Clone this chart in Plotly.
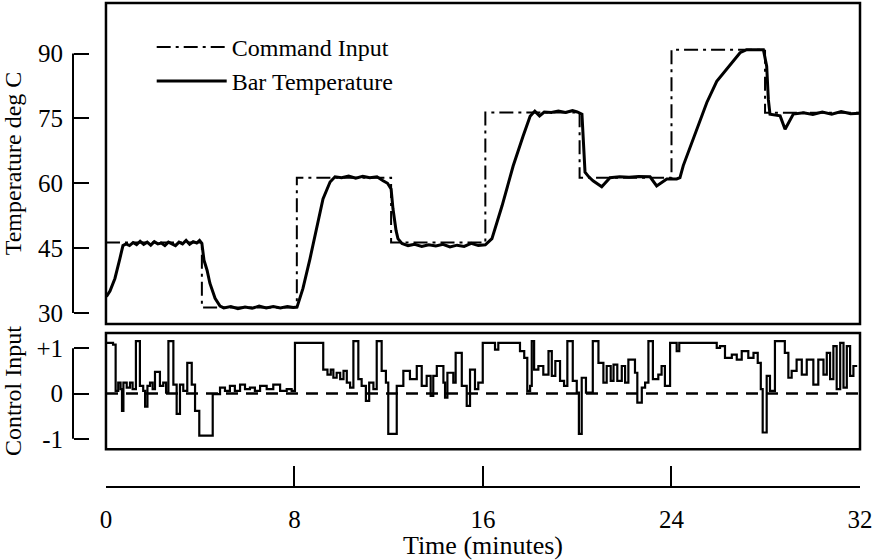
import plotly.graph_objects as go

# ---------------- data ----------------
CMD_T = [0, 4.07, 8.1, 12.1, 16.1, 20.1, 24.0, 27.97, 32]
CMD_V = [46.3, 31.3, 61.3, 46.3, 76.4, 61.3, 90.9, 76.3, 76.3]

BAR_T = [0, 0.04, 0.17, 0.38, 0.59, 0.72, 0.85, 1.0, 1.15, 1.3, 1.45, 1.6, 1.75, 1.9,
         2.05, 2.2, 2.35, 2.5, 2.65, 2.8, 2.95, 3.1, 3.25, 3.4, 3.55, 3.7, 3.85, 3.97,
         4.07, 4.16, 4.29, 4.41, 4.63, 4.84, 5.0, 5.3, 5.6, 5.9, 6.2, 6.5, 6.8, 7.1, 7.4,
         7.7, 7.95, 8.11, 8.36, 8.66, 8.96, 9.21, 9.51, 9.72, 10.0, 10.3, 10.6, 10.9,
         11.2, 11.5, 11.76, 11.95, 12.1, 12.18, 12.31, 12.39, 12.56, 12.82, 13.1, 13.4,
         13.7, 14.0, 14.3, 14.6, 14.9, 15.2, 15.5, 15.8, 16.1, 16.21, 16.38, 16.81,
         17.28, 17.7, 18.0, 18.2, 18.4, 18.6, 18.9, 19.2, 19.5, 19.8, 20.0, 20.2, 20.27,
         20.33, 20.49, 20.67, 21.04, 21.39, 21.8, 22.2, 22.6, 23.09, 23.37, 23.8, 24.22,
         24.36, 24.5, 24.93, 25.5, 25.92, 26.34, 26.91, 27.19, 27.9, 28.04, 28.11,
         28.18, 28.61, 28.82, 29.17, 29.6, 30.0, 30.4, 30.8, 31.2, 31.6, 32.0]
BAR_V = [33.9, 34.0, 35.1, 38.0, 42.6, 45.6, 46.0, 45.6, 46.3, 45.8, 46.6, 45.9, 46.4, 45.7,
         46.5, 46.0, 46.2, 45.6, 46.4, 46.0, 45.6, 46.4, 46.0, 46.8, 45.9, 46.5, 46.2, 46.8,
         46.1, 42.2, 39.9, 36.9, 33.4, 31.6, 31.2, 31.5, 31.0, 31.4, 31.1, 31.6, 31.2, 31.5,
         31.2, 31.5, 31.3, 31.4, 35.7, 42.6, 50.2, 56.4, 60.3, 61.5, 61.3, 61.7, 61.2, 61.6,
         61.3, 61.5, 60.6, 60.0, 58.7, 54.1, 49.1, 47.2, 46.1, 45.6, 45.9, 45.4, 45.8, 45.5,
         45.9, 45.3, 45.7, 45.4, 46.1, 45.6, 45.8, 46.3, 47.2, 54.8, 64.0, 70.9, 75.5, 76.7,
         75.6, 76.5, 76.4, 76.7, 76.4, 76.8, 76.5, 76.0, 67.9, 62.6, 61.5, 60.6, 59.2, 61.3,
         61.5, 61.4, 61.6, 61.5, 59.4, 61.0, 61.0, 61.3, 64.1, 70.2, 78.7, 83.6, 86.3, 90.2,
         90.9, 90.9, 87.1, 79.4, 76.0, 75.6, 72.5, 76.0, 76.3, 75.9, 76.5, 76.0, 76.6, 76.1,
         76.2]

CTRL_T = [0, 0.30, 0.41, 0.52, 0.62, 0.68, 0.74, 0.88, 1.02, 1.13, 1.27, 1.44, 1.58, 1.66,
          1.76, 1.87, 1.98, 2.08, 2.29, 2.43, 2.55, 2.65, 2.86, 3.0, 3.14, 3.28, 3.45, 3.64,
          3.78, 3.96, 4.53, 4.84, 5.05, 5.26, 5.47, 5.69, 5.90, 6.11, 6.32, 6.54, 6.82, 7.10,
          7.39, 7.67, 7.88, 8.02, 9.22, 9.40, 9.54, 9.65, 9.79, 9.94, 10.08, 10.22, 10.36,
          10.5, 10.71, 10.85, 11.03, 11.17, 11.35, 11.49, 11.70, 11.88, 11.98, 12.34, 12.62,
          12.90, 13.19, 13.40, 13.61, 13.78, 13.89, 14.04, 14.32, 14.39, 14.49, 14.74, 14.84,
          15.10, 15.31, 15.45, 15.66, 15.80, 15.99, 16.51, 16.65, 17.57, 17.75, 17.88, 18.0,
          18.07, 18.17, 18.35, 18.56, 18.78, 18.92, 19.07, 19.27, 19.44, 19.58, 19.81, 19.98,
          20.07, 20.19, 20.37, 20.66, 20.90, 21.11, 21.25, 21.42, 21.54, 21.70, 21.89, 22.03,
          22.17, 22.45, 22.55, 22.74, 22.88, 23.02, 23.21, 23.44, 23.58, 23.72, 23.94, 24.22,
          24.33, 25.92, 26.06, 26.27, 26.56, 26.77, 26.98, 27.26, 27.48, 27.66, 27.79, 27.87,
          28.04, 28.18, 28.39, 28.81, 28.96, 29.10, 29.31, 29.53, 29.74, 30.02, 30.23, 30.45,
          30.59, 30.73, 30.87, 31.01, 31.16, 31.30, 31.44, 31.58, 31.72, 31.88]
CTRL_V = [1.12, 1.08, 0.06, 0.24, 0.10, -0.38, 0.24, 0.13, 0.24, 0.10, 1.16, 0.17, 0.06, -0.29,
          0.17, 0.24, 0.10, 0.48, 0.17, 0.24, 0.02, 1.16, 0.20, -0.45, 0.20, 0.06, 0.68, 0.20,
          -0.38, -0.93, -0.01, 0.13, 0.06, 0.17, 0.06, 0.20, 0.10, 0.13, 0.06, 0.17, 0.10, 0.20,
          0.06, 0.10, 0.06, 1.12, 0.53, 0.42, 0.53, 0.35, 0.46, 0.32, 0.50, 0.24, 0.13,
          1.16, 0.32, 0.17, -0.16, 0.24, 0.10, 1.16, 0.50, 0.24, -0.89, 0.17, 0.50,
          0.32, 0.61, 0.17, 0.39, -0.05, 0.39, 0.61, 0.24, -0.09, 0.46, 0.24, 0.90,
          0.17, -0.27, 0.53, 0.10, 0.24, 1.12, 0.97, 1.12, 0.94, 0.79, 0.06, 0.17,
          1.16, 0.53, 0.61, 0.42, 0.94, 0.39, 0.72, 0.28, 0.17, 1.16, 0.28, 0.02,
          -0.89, 0.35, 0.02, 1.16, 0.68, 0.24, 0.61, 0.28, 0.64, 0.28, 0.61, 0.24,
          0.75, 0.46, -0.20, 0.13, 0.24, 1.16, 0.32, 0.42, 0.61, 0.17, 1.12, 0.94,
          1.12, 1.01, 1.05, 0.79, 0.86, 0.75, 0.94, 0.79, 0.90, 0.68, 0.10, -0.86,
          0.39, 0.06, 1.16, 0.90, 0.35, 0.50, 0.75, 0.42, 0.75, 0.20, 0.75, 0.42,
          0.90, 0.32, 1.05, 0.10, 1.12, 0.13, 1.05, 0.39, 0.61, 0.61]

X_TICKS = [0, 8, 16, 24, 32]
Y1_TICKS = [30, 45, 60, 75, 90]
Y2_TICKS = [-1, 0, 1]
Y2_LABELS = ["-1", "0", "+1"]

FONT = "Liberation Serif"
INK = "#000000"

fig = go.Figure()
fig.add_trace(go.Scatter(x=CMD_T, y=CMD_V, mode="lines", line_shape="hv",
                         name="Command Input",
                         line=dict(color=INK, width=2, dash="14px,5px,3px,5px"),
                         xaxis="x", yaxis="y"))
fig.add_trace(go.Scatter(x=BAR_T, y=BAR_V, mode="lines", name="Bar Temperature",
                         line=dict(color=INK, width=3), xaxis="x", yaxis="y"))
fig.add_trace(go.Scatter(x=CTRL_T, y=CTRL_V, mode="lines", line_shape="hv",
                         showlegend=False, line=dict(color=INK, width=2.2),
                         xaxis="x", yaxis="y2"))

axis_common = dict(showgrid=False, zeroline=False, tickcolor=INK)

fig.update_layout(
    width=882, height=560,
    margin=dict(l=73, r=22, t=3, b=70),
    paper_bgcolor="white", plot_bgcolor="white",
    font=dict(family=FONT, color=INK, size=24),
    xaxis=dict(domain=[0.0419, 1], range=[0, 32], anchor="free", position=0,
               tickvals=X_TICKS, ticks="inside", ticklen=20, tickwidth=2,
               showline=True, linewidth=2, linecolor=INK,
               tickfont=dict(size=25, color=INK), ticklabelstandoff=10,
               title=dict(text="Time (minutes)", font=dict(size=26, color=INK), standoff=6),
               **axis_common),
    yaxis=dict(domain=[0.3368, 1], range=[27.47, 101.7], anchor="free", position=0,
               tickvals=Y1_TICKS, ticks="inside", ticklen=15, tickwidth=2,
               showline=False, tickfont=dict(size=25, color=INK), ticklabelstandoff=10,
               title=dict(text="Temperature deg C", font=dict(size=24, color=INK)),
               **axis_common),
    yaxis2=dict(domain=[0.078, 0.3183], range=[-1.23, 1.34], anchor="free", position=0,
                tickvals=Y2_TICKS, ticktext=Y2_LABELS, ticks="inside", ticklen=15,
                tickwidth=2, showline=False, tickfont=dict(size=25, color=INK),
                ticklabelstandoff=10,
                title=dict(text="Control Input", font=dict(size=24, color=INK)),
                **axis_common),
    legend=dict(x=0.1, y=0.955, xanchor="left", yanchor="top",
                bgcolor="rgba(0,0,0,0)", borderwidth=0, itemwidth=70,
                font=dict(size=24, family=FONT, color=INK), tracegroupgap=0),
    showlegend=True,
)

# frames around both panels
for yref in ["y domain", "y2 domain"]:
    fig.add_shape(type="rect", xref="x domain", yref=yref, x0=0, x1=1, y0=0, y1=1,
                  line=dict(color=INK, width=2.5), fillcolor="rgba(0,0,0,0)")
# bracket-style y-axis spines spanning only the tick range
fig.add_shape(type="line", xref="paper", yref="y", x0=0, x1=0,
              y0=Y1_TICKS[0], y1=Y1_TICKS[-1], line=dict(color=INK, width=2))
fig.add_shape(type="line", xref="paper", yref="y2", x0=0, x1=0,
              y0=Y2_TICKS[0], y1=Y2_TICKS[-1], line=dict(color=INK, width=2))
# dashed zero reference in the control panel
fig.add_shape(type="line", xref="x domain", yref="y2", x0=0, x1=1, y0=0, y1=0,
              line=dict(color=INK, width=2.5, dash="12px,8px"))

fig.write_html("out.html")
